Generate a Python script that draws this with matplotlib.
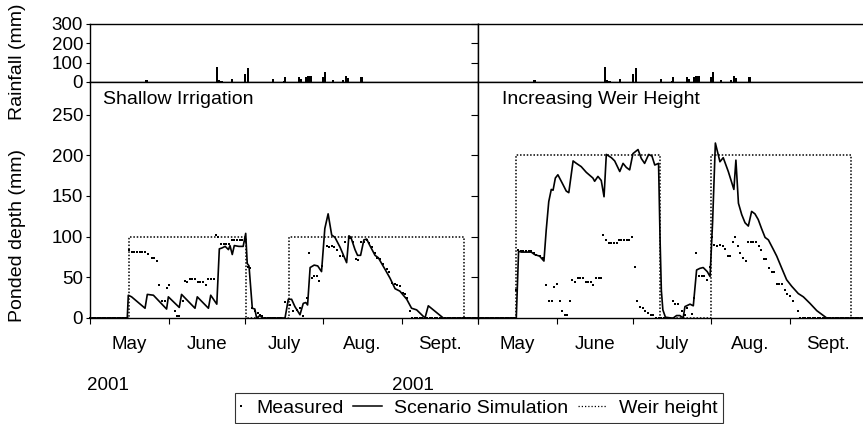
import matplotlib
matplotlib.use("Agg")
import matplotlib.pyplot as plt
from matplotlib.lines import Line2D
from matplotlib.legend_handler import HandlerLine2D

plt.rcParams['font.family'] = ['Liberation Sans', 'DejaVu Sans']
plt.rcParams['font.size'] = 14

# x axis in days since 1 May 2001
month_edges = [0, 31, 61, 92, 123, 153]
month_names = ['May', 'June', 'July', 'Aug.', 'Sept.']

# daily rainfall (mm), same for both scenarios
rain_day = [22.3, 50.0, 50.7, 51.8, 56.1, 61.1, 62.2, 72.3, 76.5, 77.0, 82.4, 83.2,
            85.4, 86.2, 87.0, 91.8, 92.7, 95.9, 99.9, 100.9, 101.7, 107.1]
rain_mm = [8, 76, 12, 5, 15, 42, 75, 17, 7, 25, 24, 17,
           25, 29, 30, 25, 51, 12, 8, 29, 20, 24]

# --- Shallow irrigation ---
shallow_meas_day = list(range(0, 15)) + [
    15.4, 16.4, 17.5, 18.5, 19.6, 20.6, 21.7, 23.0, 24.3, 25.4, 26.3, 27.3, 28.5, 29.6,
    30.5, 31.3, 33.5, 34.3, 35.1, 36.5, 37.5, 38.4, 39.4, 40.4, 41.4, 42.4, 43.5, 44.6,
    45.6, 46.7, 47.7, 48.8, 49.8, 50.6, 51.7, 52.7, 53.8, 54.8, 55.9, 56.9, 58.0, 59.0,
    60.1, 61.1, 62.2, 62.9, 64.0, 65.0, 66.1, 67.0, 68.0, 69, 70, 71, 72, 73, 74, 75,
    76.9, 78.9, 80.2, 81.5, 82.8, 84.1, 85.4, 86.5, 87.4, 88.5, 89.5, 90.4, 91.6, 93.3,
    94.4, 95.4, 96.4, 97.3, 98.6, 99.6, 100.7, 102.5, 103.8, 104.8, 105.8, 106.9, 108.0,
    109.1, 110.2, 111.1, 112.4, 113.1, 114.4, 115.7, 117.0, 118.0, 119.1, 120.2, 121.2,
    122.2, 123.3, 124.4, 125.1, 126.2] + list(range(127, 154))
shallow_meas = [0] * 15 + [
    84, 81, 81, 81, 81, 81, 81, 79, 74, 74, 70, 40, 21, 21,
    37, 41, 8, 3, 3, 21, 46, 44, 48, 48, 48, 44, 44, 44,
    40, 48, 48, 48, 102, 99, 91, 91, 91, 91, 96, 96, 96, 96,
    96, 95, 63, 62, 12, 8, 6, 4, 2, 0, 0, 0, 0, 0, 0, 0,
    20, 16, 8, 10, 12, 3, 24, 80, 49, 51, 51, 46, 64, 89,
    87, 89, 87, 84, 76, 76, 94, 98, 94, 73, 71, 94, 94,
    96, 92, 87, 80, 74, 73, 66, 60, 57, 43, 42, 41,
    39, 31, 29, 25, 8] + [0] * 27
shallow_sim_day = [0, 14.7, 15.1, 16.4, 21.7, 22.6, 25.0, 30.2, 30.9, 35.2, 36.1, 41.4,
                   42.3, 46.7, 47.6, 50.0, 51.0, 52.0, 53.3, 54.6, 55.2, 56.1, 56.9,
                   58.7, 60.4, 61.4, 62.0, 62.7, 64.0, 65.0, 65.7, 67.0, 68.3, 76.9,
                   78.2, 79.5, 80.8, 82.8, 84.1, 85.1, 85.8, 86.8, 88.4, 89.8, 91.3,
                   92.6, 93.9, 95.3, 96.6, 98.6, 101.2, 102.1, 102.9, 104.5, 105.5,
                   106.7, 108.0, 109.1, 110.2, 112.4, 113.7, 116.3, 118.3, 120.3,
                   122.2, 124.9, 126.8, 128.8, 132.1, 133.4, 139.3, 153]
shallow_sim = [0, 0, 28, 26, 12, 29, 28, 11, 26, 13, 29, 12,
               26, 12, 28, 17, 85, 86, 88, 84, 89, 78, 89,
               88, 88, 104, 67, 64, 12, 11, 0, 3, 0, 0,
               23, 23, 14, 4, 18, 19, 16, 62, 65, 64, 57,
               110, 128, 102, 99, 87, 68, 101, 99, 84, 77,
               77, 96, 97, 90, 77, 74, 60, 49, 36,
               33, 23, 12, 10, 0, 15, 0, 0]
shallow_weir_on = [(15.2, 61.7), (78.6, 147.5)]
shallow_weir_level = 100

# --- Increasing weir height ---
weir_meas_day = list(range(0, 15)) + [
    15.0, 15.8, 16.8, 17.9, 18.9, 20.0, 21.0, 22.0, 23.0, 24.3, 25.6, 26.9, 28.0, 29.2,
    30.1, 31.2, 32.2, 33.1, 34.2, 35.2, 36.1, 37.2, 38.2, 39.3, 40.4, 41.4, 42.5, 43.5,
    44.4, 45.5, 46.5, 47.6, 48.6, 49.4, 50.5, 51.5, 52.6, 53.6, 54.7, 55.5, 56.5, 57.6,
    58.6, 59.7, 60.7, 61.8, 62.8, 63.9, 64.9, 66.0, 67.0, 68.1, 69.1, 70.2, 71.2, 72.2,
    73.2, 76.8, 77.7, 79.0, 80.3, 81.6, 82.3, 84.3, 85.2, 86.0, 87.3, 88.3, 89.2, 90.4,
    91.5, 92.4, 93.2, 94.2, 95.4, 96.5, 97.4, 98.4, 99.5, 100.4, 101.5, 102.5, 103.4,
    104.5, 105.6, 106.5, 107.5, 108.6, 109.6, 110.7, 111.6, 112.6, 113.7, 114.7, 115.8,
    116.9, 117.8, 118.8, 119.9, 120.9, 122.0, 123.0, 124.4, 126.1] + list(range(127, 154))
weir_meas = [0] * 15 + [
    35, 84, 82, 82, 82, 82, 82, 80, 78, 76, 74, 40, 21, 21,
    38, 42, 21, 8, 4, 4, 21, 47, 44, 49, 49, 49, 44, 44,
    44, 40, 49, 49, 49, 102, 96, 92, 92, 92, 92, 96, 96, 96,
    96, 96, 100, 63, 21, 13, 12, 9, 6, 4, 4, 0, 0, 0,
    0, 21, 17, 17, 8, 4, 12, 5, 25, 80, 51, 51, 52, 47,
    63, 99, 90, 88, 90, 88, 85, 76, 76, 94, 99, 88, 80,
    74, 70, 94, 94, 94, 94, 88, 84, 72, 72, 62, 56,
    56, 42, 42, 42, 35, 30, 27, 21, 9] + [0] * 27
weir_sim_day = [0, 15.1, 16.0, 17.1, 21.0, 22.3, 24.3, 26.0, 26.9, 27.9, 28.9, 29.6,
                30.5, 31.5, 33.5, 34.8, 35.8, 37.5, 38.8, 40.7, 42.7, 45.3, 46.0, 47.3,
                48.6, 49.7, 50.6, 52.6, 53.9, 55.9, 57.2, 58.5, 59.8, 61.1, 63.1, 64.4,
                65.7, 67.3, 68.6, 69.7, 71.2, 71.8, 72.3, 72.9, 73.9, 76.2, 77.0, 78.3,
                79.6, 80.9, 81.6, 83.6, 84.9, 86.2, 87.5, 88.8, 90.4, 91.5, 92.5, 93.6,
                94.7, 95.4, 96.7, 98.7, 100.9, 101.7, 102.7, 104.0, 105.3, 106.6, 107.9,
                109.2, 110.5, 111.8, 113.2, 114.5, 116.5, 117.8, 119.8, 121.7, 123.7,
                126.3, 128.3, 130.9, 133.6, 137.5, 153]
weir_sim = [0, 0, 82, 81, 81, 78, 76, 70, 108, 143, 158, 157,
            172, 176, 164, 156, 154, 193, 190, 186, 179, 172, 168, 174,
            169, 149, 201, 197, 193, 180, 190, 185, 182, 202, 207, 196,
            190, 201, 199, 188, 190, 96, 34, 10, 1, 0, 0, 3,
            3, 0, 14, 17, 15, 59, 61, 62, 57, 51, 117, 215,
            201, 192, 197, 180, 158, 194, 141, 127, 117, 113, 131,
            128, 121, 110, 99, 96, 84, 76, 61, 47, 39,
            30, 26, 18, 9, 0, 0]
weir_weir_on = [(15.1, 71.6), (91.8, 147.1)]
weir_weir_level = 200


def weir_line(on, level):
    xs, ys = [0], [0]
    for a, b in on:
        xs += [a, a, b, b]
        ys += [0, level, level, 0]
    xs.append(month_edges[-1])
    ys.append(0)
    return xs, ys


# legend handlers: dot hugs the frame, lines reach back into the column gap
class DotHandler(HandlerLine2D):
    def get_xdata(self, legend, xdescent, ydescent, width, height, fontsize):
        p = -xdescent + 0.1 * width
        return [p - 1, p + 1], [p]


class LongLineHandler(HandlerLine2D):
    def get_xdata(self, legend, xdescent, ydescent, width, height, fontsize):
        x0 = -xdescent - 1.3 * fontsize
        x1 = -xdescent + width - 0.2 * fontsize
        return [x0, x1], [x0, x1]


W, H = 863, 424
fig = plt.figure(figsize=(W / 100, H / 100), dpi=100)


def box(x0, y0, x1, y1):
    return [x0 / W, 1 - y1 / H, (x1 - x0) / W, (y1 - y0) / H]


panels = [
    ('Shallow Irrigation', shallow_meas_day, shallow_meas, shallow_sim_day, shallow_sim,
     shallow_weir_on, shallow_weir_level),
    ('Increasing Weir Height', weir_meas_day, weir_meas, weir_sim_day, weir_sim,
     weir_weir_on, weir_weir_level),
]

mids = [(a + b) / 2 for a, b in zip(month_edges[:-1], month_edges[1:])]
dotted = (0, (1, 1.2))

for i, (title, md, mv, sd, sv, won, wlev) in enumerate(panels):
    x0 = 90 + i * 388
    axr = fig.add_axes(box(x0, 24, x0 + 388, 82))
    ax = fig.add_axes(box(x0, 82, x0 + 388, 318))

    # rainfall bars
    axr.bar(rain_day, rain_mm, width=0.9, color='black')
    axr.set_xlim(0, 153)
    axr.set_ylim(0, 300)
    axr.set_xticks([])
    axr.set_yticks([0, 100, 200, 300])

    # ponded depth
    wx, wy = weir_line(won, wlev)
    ax.plot(wx, wy, color='black', lw=1.1, ls=dotted, clip_on=False)
    ax.plot(sd, sv, color='black', lw=1.2, clip_on=False)
    ax.plot(md, mv, ls='none', marker='s', ms=1.9, color='black', mew=0, clip_on=False)
    ax.set_xlim(0, 153)
    ax.set_ylim(0, 290)
    ax.set_yticks([0, 50, 100, 150, 200, 250])
    ax.set_xticks(month_edges)
    ax.set_xticklabels([])
    ax.set_xticks(mids, minor=True)
    ax.set_xticklabels(month_names, minor=True)
    ax.tick_params(axis='x', which='major', direction='out', length=4, width=0.8)
    ax.tick_params(axis='x', which='minor', length=0, pad=13, labelsize=13.5)
    ax.text(0.034 if i == 0 else 0.062, 0.925, title, transform=ax.transAxes,
            ha='left', va='center', fontsize=14)

    for a in (ax, axr):
        for s in a.spines.values():
            s.set_linewidth(1.0)
        if i == 0:
            a.tick_params(axis='y', which='major', left=True, right=True, direction='out',
                          length=3, width=0.8, labelsize=13.5, pad=2)
            # right side ticks point inward
            for t in a.yaxis.get_major_ticks():
                t.tick2line.set_marker(0)
                t.tick2line.set_markersize(5)
        else:
            a.tick_params(axis='y', left=False, right=False, labelleft=False)

fig.text(18 / W, 1 - 62 / H, 'Rainfall (mm)', rotation=90, ha='center', va='center', fontsize=14)
fig.text(18 / W, 1 - 235 / H, 'Ponded depth (mm)', rotation=90, ha='center', va='center', fontsize=14)
fig.text(108 / W, 1 - 385 / H, '2001', ha='center', va='center', fontsize=13.5)
fig.text(413 / W, 1 - 385 / H, '2001', ha='center', va='center', fontsize=13.5)

h_meas = Line2D([], [], ls='none', marker='s', ms=1.6, mew=0, color='black')
h_sim = Line2D([], [], color='black', lw=1.1)
h_weir = Line2D([], [], color='black', lw=0.9, ls=(0, (1, 1.6)))
leg = fig.legend([h_meas, h_sim, h_weir], ['Measured', 'Scenario Simulation', 'Weir height'],
                 loc='center', bbox_to_anchor=(479 / W, 1 - 408 / H), ncol=3,
                 frameon=True, fancybox=False, edgecolor='black', fontsize=14,
                 handlelength=0.4, handletextpad=0.4, columnspacing=1.8,
                 borderpad=0.3, borderaxespad=0, numpoints=1,
                 handler_map={h_meas: DotHandler(), h_sim: LongLineHandler(),
                              h_weir: LongLineHandler()})
leg.get_frame().set_linewidth(0.8)

fig.savefig('out.png', dpi=100)
